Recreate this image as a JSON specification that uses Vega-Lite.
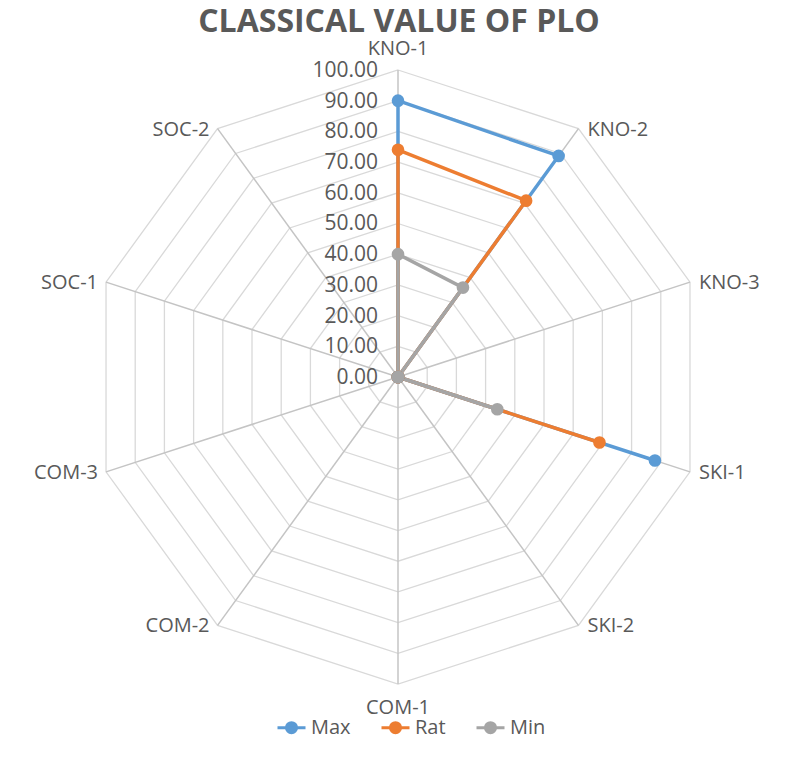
{
  "$schema": "https://vega.github.io/schema/vega-lite/v6.json",
  "width": 798,
  "height": 763,
  "autosize": {"type": "none"},
  "padding": 0,
  "background": "white",
  "config": {"view": {"stroke": null}, "font": "Open Sans"},
  "title": {
    "text": "CLASSICAL VALUE OF PLO",
    "fontSize": 32,
    "fontWeight": "bold",
    "font": "Open Sans",
    "color": "#595959",
    "anchor": "middle",
    "baseline": "alphabetic",
    "offset": -33,
    "dy": 31
  },
  "datasets": {
    "axes": [
      {"axis": "KNO-1", "i": 0},
      {"axis": "KNO-2", "i": 1},
      {"axis": "KNO-3", "i": 2},
      {"axis": "SKI-1", "i": 3},
      {"axis": "SKI-2", "i": 4},
      {"axis": "COM-1", "i": 5},
      {"axis": "COM-2", "i": 6},
      {"axis": "COM-3", "i": 7},
      {"axis": "SOC-1", "i": 8},
      {"axis": "SOC-2", "i": 9}
    ],
    "levels": [
      {"level": 0, "i": [0,1,2,3,4,5,6,7,8,9]},
      {"level": 10, "i": [0,1,2,3,4,5,6,7,8,9]},
      {"level": 20, "i": [0,1,2,3,4,5,6,7,8,9]},
      {"level": 30, "i": [0,1,2,3,4,5,6,7,8,9]},
      {"level": 40, "i": [0,1,2,3,4,5,6,7,8,9]},
      {"level": 50, "i": [0,1,2,3,4,5,6,7,8,9]},
      {"level": 60, "i": [0,1,2,3,4,5,6,7,8,9]},
      {"level": 70, "i": [0,1,2,3,4,5,6,7,8,9]},
      {"level": 80, "i": [0,1,2,3,4,5,6,7,8,9]},
      {"level": 90, "i": [0,1,2,3,4,5,6,7,8,9]},
      {"level": 100, "i": [0,1,2,3,4,5,6,7,8,9]}
    ],
    "scores": [
      {"series": "Max", "axis": "KNO-1", "i": 0, "value": 90},
      {"series": "Max", "axis": "KNO-2", "i": 1, "value": 89},
      {"series": "Max", "axis": "KNO-3", "i": 2, "value": 0},
      {"series": "Max", "axis": "SKI-1", "i": 3, "value": 88},
      {"series": "Max", "axis": "SKI-2", "i": 4, "value": 0},
      {"series": "Max", "axis": "COM-1", "i": 5, "value": 0},
      {"series": "Max", "axis": "COM-2", "i": 6, "value": 0},
      {"series": "Max", "axis": "COM-3", "i": 7, "value": 0},
      {"series": "Max", "axis": "SOC-1", "i": 8, "value": 0},
      {"series": "Max", "axis": "SOC-2", "i": 9, "value": 0},
      {"series": "Rat", "axis": "KNO-1", "i": 0, "value": 74},
      {"series": "Rat", "axis": "KNO-2", "i": 1, "value": 71},
      {"series": "Rat", "axis": "KNO-3", "i": 2, "value": 0},
      {"series": "Rat", "axis": "SKI-1", "i": 3, "value": 69},
      {"series": "Rat", "axis": "SKI-2", "i": 4, "value": 0},
      {"series": "Rat", "axis": "COM-1", "i": 5, "value": 0},
      {"series": "Rat", "axis": "COM-2", "i": 6, "value": 0},
      {"series": "Rat", "axis": "COM-3", "i": 7, "value": 0},
      {"series": "Rat", "axis": "SOC-1", "i": 8, "value": 0},
      {"series": "Rat", "axis": "SOC-2", "i": 9, "value": 0},
      {"series": "Min", "axis": "KNO-1", "i": 0, "value": 40},
      {"series": "Min", "axis": "KNO-2", "i": 1, "value": 36},
      {"series": "Min", "axis": "KNO-3", "i": 2, "value": 0},
      {"series": "Min", "axis": "SKI-1", "i": 3, "value": 34},
      {"series": "Min", "axis": "SKI-2", "i": 4, "value": 0},
      {"series": "Min", "axis": "COM-1", "i": 5, "value": 0},
      {"series": "Min", "axis": "COM-2", "i": 6, "value": 0},
      {"series": "Min", "axis": "COM-3", "i": 7, "value": 0},
      {"series": "Min", "axis": "SOC-1", "i": 8, "value": 0},
      {"series": "Min", "axis": "SOC-2", "i": 9, "value": 0}
    ]
  },
  "layer": [
    {
      "data": {"name": "levels"},
      "transform": [
        {"filter": "datum.level > 0"},
        {"flatten": ["i"]},
        {"calculate": "datum.level * sin(datum.i * PI / 5)", "as": "px"},
        {"calculate": "datum.level * cos(datum.i * PI / 5)", "as": "py"}
      ],
      "mark": {"type": "line", "interpolate": "linear-closed", "color": "#D9D9D9", "strokeWidth": 1.3},
      "encoding": {
        "x": {"field": "px", "type": "quantitative", "scale": {"domain": [-129.64, 130.29], "nice": false, "zero": false}, "axis": null},
        "y": {"field": "py", "type": "quantitative", "scale": {"domain": [-125.73, 122.8], "nice": false, "zero": false}, "axis": null},
        "detail": {"field": "level", "type": "nominal"},
        "order": {"field": "i", "type": "quantitative"}
      }
    },
    {
      "data": {"name": "axes"},
      "transform": [
        {"calculate": "100 * sin(datum.i * PI / 5)", "as": "px"},
        {"calculate": "100 * cos(datum.i * PI / 5)", "as": "py"}
      ],
      "mark": {"type": "rule", "color": "#C4C4C4", "strokeWidth": 1.5},
      "encoding": {
        "x": {"field": "px", "type": "quantitative", "axis": null},
        "y": {"field": "py", "type": "quantitative", "axis": null},
        "x2": {"datum": 0},
        "y2": {"datum": 0}
      }
    },
    {
      "data": {"name": "levels"},
      "mark": {"type": "text", "align": "right", "baseline": "middle", "dx": -20, "dy": 1, "fontSize": 21, "color": "#595959", "font": "Open Sans"},
      "encoding": {
        "x": {"datum": 0, "type": "quantitative"},
        "y": {"field": "level", "type": "quantitative"},
        "text": {"field": "level", "type": "quantitative", "format": ".2f"}
      }
    },
    {
      "data": {"name": "axes"},
      "transform": [
        {"filter": "datum.i >= 1 && datum.i <= 4"},
        {"calculate": "100 * sin(datum.i * PI / 5)", "as": "px"},
        {"calculate": "100 * cos(datum.i * PI / 5)", "as": "py"}
      ],
      "mark": {"type": "text", "align": "left", "baseline": "middle", "dx": 9, "dy": 1, "fontSize": 20, "color": "#595959", "font": "Open Sans"},
      "encoding": {
        "x": {"field": "px", "type": "quantitative"},
        "y": {"field": "py", "type": "quantitative"},
        "text": {"field": "axis", "type": "nominal"}
      }
    },
    {
      "data": {"name": "axes"},
      "transform": [
        {"filter": "datum.i >= 6"},
        {"calculate": "100 * sin(datum.i * PI / 5)", "as": "px"},
        {"calculate": "100 * cos(datum.i * PI / 5)", "as": "py"}
      ],
      "mark": {"type": "text", "align": "right", "baseline": "middle", "dx": -8, "dy": 1, "fontSize": 20, "color": "#595959", "font": "Open Sans"},
      "encoding": {
        "x": {"field": "px", "type": "quantitative"},
        "y": {"field": "py", "type": "quantitative"},
        "text": {"field": "axis", "type": "nominal"}
      }
    },
    {
      "data": {"name": "axes"},
      "transform": [{"filter": "datum.i == 0"}],
      "mark": {"type": "text", "align": "center", "baseline": "alphabetic", "dy": -15, "fontSize": 20, "color": "#595959", "font": "Open Sans"},
      "encoding": {
        "x": {"datum": 0, "type": "quantitative"},
        "y": {"datum": 100, "type": "quantitative"},
        "text": {"field": "axis", "type": "nominal"}
      }
    },
    {
      "data": {"name": "axes"},
      "transform": [{"filter": "datum.i == 5"}],
      "mark": {"type": "text", "align": "center", "baseline": "alphabetic", "dy": 30, "fontSize": 20, "color": "#595959", "font": "Open Sans"},
      "encoding": {
        "x": {"datum": 0, "type": "quantitative"},
        "y": {"datum": -100, "type": "quantitative"},
        "text": {"field": "axis", "type": "nominal"}
      }
    },
    {
      "data": {"name": "scores"},
      "transform": [
        {"calculate": "datum.value * sin(datum.i * PI / 5)", "as": "px"},
        {"calculate": "datum.value * cos(datum.i * PI / 5)", "as": "py"}
      ],
      "mark": {"type": "line", "interpolate": "linear-closed", "strokeWidth": 3.5},
      "encoding": {
        "x": {"field": "px", "type": "quantitative"},
        "y": {"field": "py", "type": "quantitative"},
        "order": {"field": "i", "type": "quantitative"},
        "color": {
          "field": "series",
          "type": "nominal",
          "sort": ["Max", "Rat", "Min"],
          "scale": {"domain": ["Max", "Rat", "Min"], "range": ["#5B9BD5", "#ED7D31", "#A5A5A5"]},
          "legend": {
            "orient": "none",
            "direction": "horizontal",
            "legendX": 276,
            "legendY": 712,
            "title": null,
            "symbolType": "M-1,0H1M0.36,0A0.36,0.36,0,1,1,-0.36,0A0.36,0.36,0,1,1,0.36,0Z",
            "symbolSize": 784,
            "symbolStrokeWidth": 3,
            "symbolOpacity": 1,
            "labelFontSize": 20,
            "labelColor": "#595959",
            "labelFont": "Open Sans",
            "labelOffset": 4,
            "columnPadding": 24
          }
        }
      }
    },
    {
      "data": {"name": "scores"},
      "transform": [
        {"calculate": "datum.value * sin(datum.i * PI / 5)", "as": "px"},
        {"calculate": "datum.value * cos(datum.i * PI / 5)", "as": "py"}
      ],
      "mark": {"type": "circle", "size": 160, "opacity": 1},
      "encoding": {
        "x": {"field": "px", "type": "quantitative"},
        "y": {"field": "py", "type": "quantitative"},
        "color": {"field": "series", "type": "nominal", "sort": ["Max", "Rat", "Min"]}
      }
    }
  ]
}
